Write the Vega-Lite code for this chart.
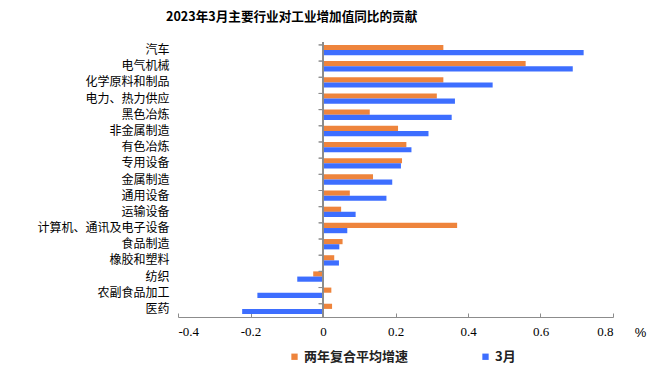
{
  "$schema": "https://vega.github.io/schema/vega-lite/v6.json",
  "autosize": "none",
  "width": 435,
  "height": 275,
  "padding": {"left": 178, "top": 42, "right": 59, "bottom": 58},
  "background": "white",
  "title": {
    "text": "2023年3月主要行业对工业增加值同比的贡献",
    "anchor": "start",
    "frame": "group",
    "dx": -12,
    "offset": 18,
    "font": "Noto Sans CJK SC",
    "fontSize": 12.6,
    "fontWeight": "bold",
    "color": "#000000"
  },
  "config": {"view": {"stroke": null}},
  "data": {
    "values": [
      {"cat": "汽车", "series": "两年复合平均增速", "value": 0.332},
      {"cat": "汽车", "series": "3月", "value": 0.719},
      {"cat": "电气机械", "series": "两年复合平均增速", "value": 0.559},
      {"cat": "电气机械", "series": "3月", "value": 0.689},
      {"cat": "化学原料和制品", "series": "两年复合平均增速", "value": 0.332},
      {"cat": "化学原料和制品", "series": "3月", "value": 0.468},
      {"cat": "电力、热力供应", "series": "两年复合平均增速", "value": 0.314},
      {"cat": "电力、热力供应", "series": "3月", "value": 0.364},
      {"cat": "黑色冶炼", "series": "两年复合平均增速", "value": 0.129},
      {"cat": "黑色冶炼", "series": "3月", "value": 0.355},
      {"cat": "非金属制造", "series": "两年复合平均增速", "value": 0.207},
      {"cat": "非金属制造", "series": "3月", "value": 0.291},
      {"cat": "有色冶炼", "series": "两年复合平均增速", "value": 0.23},
      {"cat": "有色冶炼", "series": "3月", "value": 0.244},
      {"cat": "专用设备", "series": "两年复合平均增速", "value": 0.218},
      {"cat": "专用设备", "series": "3月", "value": 0.215},
      {"cat": "金属制造", "series": "两年复合平均增速", "value": 0.138},
      {"cat": "金属制造", "series": "3月", "value": 0.191},
      {"cat": "通用设备", "series": "两年复合平均增速", "value": 0.074},
      {"cat": "通用设备", "series": "3月", "value": 0.175},
      {"cat": "运输设备", "series": "两年复合平均增速", "value": 0.05},
      {"cat": "运输设备", "series": "3月", "value": 0.09},
      {"cat": "计算机、通讯及电子设备", "series": "两年复合平均增速", "value": 0.37},
      {"cat": "计算机、通讯及电子设备", "series": "3月", "value": 0.067},
      {"cat": "食品制造", "series": "两年复合平均增速", "value": 0.054},
      {"cat": "食品制造", "series": "3月", "value": 0.045},
      {"cat": "橡胶和塑料", "series": "两年复合平均增速", "value": 0.031},
      {"cat": "橡胶和塑料", "series": "3月", "value": 0.044},
      {"cat": "纺织", "series": "两年复合平均增速", "value": -0.027},
      {"cat": "纺织", "series": "3月", "value": -0.071},
      {"cat": "农副食品加工", "series": "两年复合平均增速", "value": 0.023},
      {"cat": "农副食品加工", "series": "3月", "value": -0.181},
      {"cat": "医药", "series": "两年复合平均增速", "value": 0.025},
      {"cat": "医药", "series": "3月", "value": -0.223}
    ]
  },
  "layer": [
    {
      "mark": {"type": "bar", "opacity": 0.95},
      "encoding": {
        "y": {
          "field": "cat",
          "type": "nominal",
          "sort": null,
          "scale": {"paddingInner": 0.36, "paddingOuter": 0.18},
          "axis": {
            "title": null,
            "domain": false,
            "ticks": false,
            "labelPadding": 9,
            "labelFont": "Noto Sans CJK SC",
            "labelFontSize": 12,
            "labelColor": "#000000"
          }
        },
        "yOffset": {
          "field": "series",
          "type": "nominal",
          "sort": ["两年复合平均增速", "3月"]
        },
        "x": {
          "field": "value",
          "type": "quantitative",
          "scale": {"domain": [-0.4, 0.8], "nice": false},
          "axis": {
            "values": [-0.4, -0.2, 0, 0.2, 0.4, 0.6, 0.8],
            "labelExpr": "datum.value == 0 ? '0' : replace(format(datum.value, '.1f'), '−', '-')",
            "grid": false,
            "domainColor": "#8c8c8c",
            "tickColor": "#8c8c8c",
            "tickSize": -4,
            "labelPadding": 12,
            "labelFont": "Liberation Serif",
            "labelFontSize": 13,
            "labelColor": "#000000",
            "title": "%",
            "titleFont": "Liberation Sans",
            "titleFontSize": 13,
            "titleFontWeight": "normal",
            "titleColor": "#000000",
            "titleX": 462,
            "titleY": 9,
            "titleAlign": "center"
          }
        },
        "color": {
          "field": "series",
          "type": "nominal",
          "scale": {"domain": ["两年复合平均增速", "3月"], "range": ["#ED7D31", "#3366FF"]},
          "legend": {
            "title": null,
            "orient": "none",
            "legendX": 110,
            "legendY": 308,
            "direction": "horizontal",
            "columns": 2,
            "columnPadding": 70,
            "symbolType": "square",
            "symbolSize": 40,
            "symbolStrokeWidth": 0,
            "labelFont": "Noto Sans CJK SC",
            "labelFontSize": 13,
            "labelFontWeight": "bold",
            "labelColor": "#222222",
            "labelOffset": 3
          }
        }
      }
    },
    {
      "mark": {"type": "rule", "color": "#8c8c8c", "strokeWidth": 1},
      "encoding": {
        "x": {"datum": 0}
      }
    },
    {
      "mark": {"type": "rule", "color": "#8c8c8c", "strokeWidth": 1},
      "encoding": {
        "y": {"field": "cat", "type": "nominal", "sort": null, "bandPosition": 0},
        "x": {"datum": -0.012},
        "x2": {"datum": 0}
      }
    }
  ]
}
